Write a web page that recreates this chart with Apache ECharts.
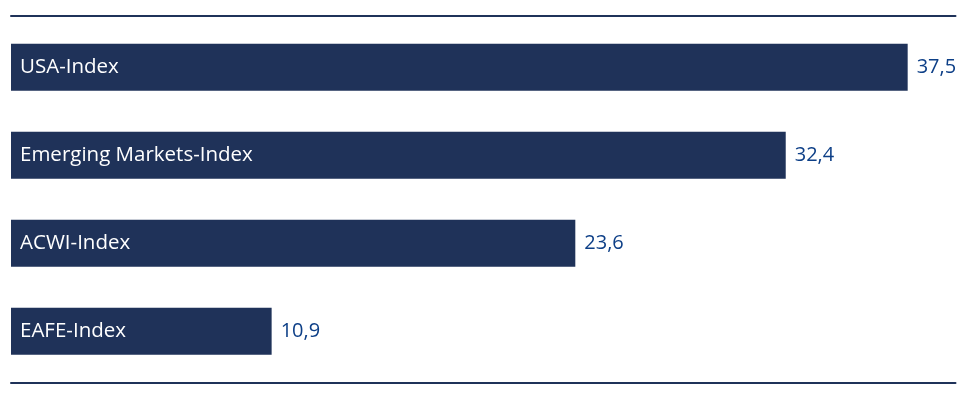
<!DOCTYPE html>
<html><head><meta charset="utf-8">
<script src="https://cdn.jsdelivr.net/npm/echarts@6/dist/echarts.min.js"></script>
<style>html,body{margin:0;padding:0;background:#fff}#c{width:966px;height:401px}</style>
</head><body><div id="c"></div>
<script>
const categories = ['USA-Index','Emerging Markets-Index','ACWI-Index','EAFE-Index'];
const values = [37.5, 32.4, 23.6, 10.9];
const navy = '#1f3259';
const fontFam = '"Open Sans", "Noto Sans", sans-serif';
const chart = echarts.init(document.getElementById('c'));
chart.setOption({
  animation: false,
  grid: {left: 11, right: 10.5, top: 23.3, bottom: 25.7},
  xAxis: [
    {type:'value', min:0, max:39.5, position:'bottom', offset:7.5,
     axisLine:{show:true, onZero:false, lineStyle:{color:navy,width:2}},
     axisTick:{show:false}, axisLabel:{show:false}, splitLine:{show:false}},
    {type:'value', min:0, max:39.5, position:'top', offset:7.3,
     axisLine:{show:true, onZero:false, lineStyle:{color:navy,width:2}},
     axisTick:{show:false}, axisLabel:{show:false}, splitLine:{show:false}}
  ],
  yAxis: {type:'category', data: categories, inverse:true,
    axisLine:{show:false}, axisTick:{show:false}, axisLabel:{show:false}},
  series: [
    {type:'bar', data: values, barWidth: 47, itemStyle:{color:navy},
     label:{show:true, position:'right', distance:9, color:'#0d3f87', fontSize:20, fontFamily:fontFam,
       formatter: p => String(p.value).replace('.', ',')}},
    {type:'bar', data: values, barWidth: 47, barGap:'-100%', itemStyle:{color:'rgba(0,0,0,0)'},
     label:{show:true, position:'insideLeft', distance:9, color:'#ffffff', fontSize:20.5, fontFamily:fontFam,
       formatter: p => p.name}}
  ]
});
</script></body></html>
